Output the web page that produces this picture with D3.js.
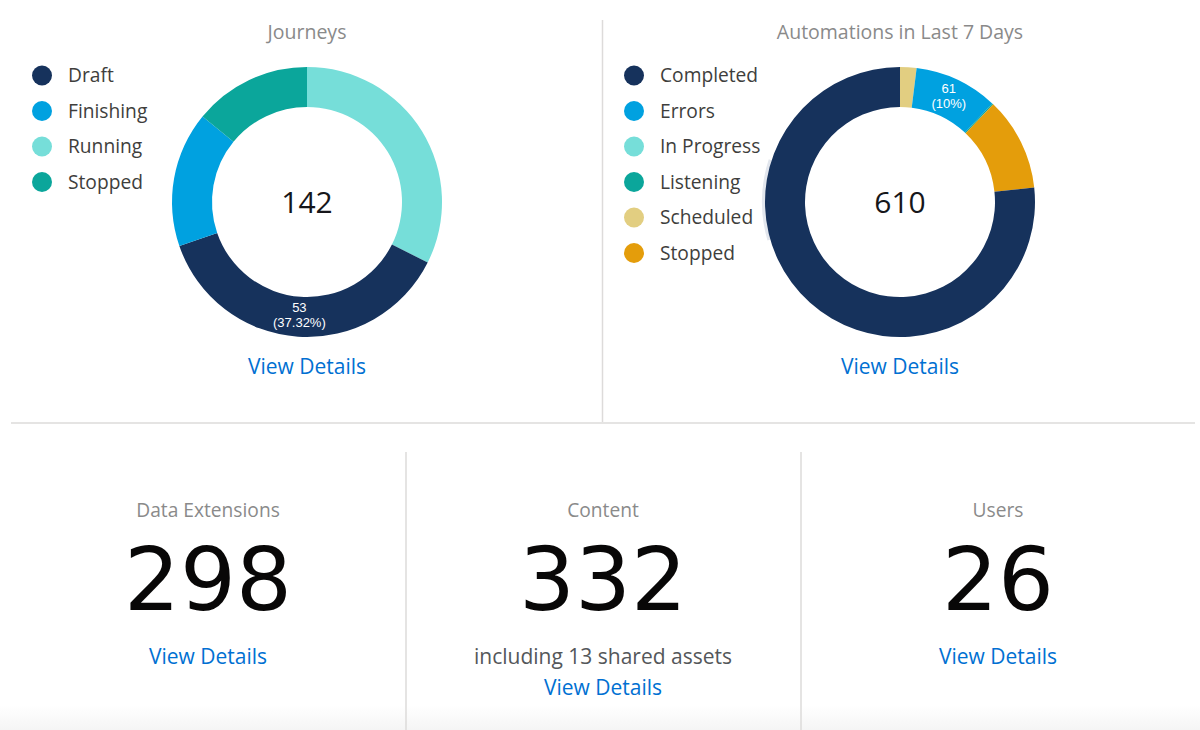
<!DOCTYPE html>
<html>
<head>
<meta charset="utf-8">
<script src="https://cdn.jsdelivr.net/npm/d3@7"></script>
<style>
    html, body { margin: 0; padding: 0; background: #fff; }
    svg { display: block; font-family: 'Open Sans', 'Noto Sans', sans-serif; }
</style>
</head>
<body>
<svg id="chart" width="1200" height="730"></svg>
<script>
'use strict';

// Journeys donut (legend order)
var journeyCategories = ['Draft', 'Finishing', 'Running', 'Stopped'],
    journeyValues = [53, 23, 46, 20],
    journeyColors = ['#16325c', '#00a1e0', '#76ded9', '#0ba69b'],
    journeyArcOrder = ['Running', 'Draft', 'Finishing', 'Stopped'],
    journeyLabelled = ['Draft'];

// Automations donut (legend order)
var autoCategories = ['Completed', 'Errors', 'In Progress', 'Listening', 'Scheduled', 'Stopped'],
    autoValues = [468, 61, 0, 1, 12, 68],
    autoColors = ['#16325c', '#00a1e0', '#76ded9', '#0ba69b', '#e2ce81', '#e49d0b'],
    autoArcOrder = ['Scheduled', 'Errors', 'In Progress', 'Listening', 'Stopped', 'Completed'],
    autoLabelled = ['Errors'];

// Bottom tiles
var tileTitles = ['Data Extensions', 'Content', 'Users'],
    tileValues = [298, 332, 26],
    tileNotes = ['', 'including 13 shared assets', ''];

var svg = d3.select('#chart'),
    W = 1200, H = 730,
    rOuter = 135, rInner = 95,
    linkColor = '#0070d2';

// faint fade at the very bottom
var grad = svg.append('defs').append('linearGradient')
    .attr('id', 'fade').attr('x1', 0).attr('y1', 0).attr('x2', 0).attr('y2', 1);
grad.append('stop').attr('offset', '0%').attr('stop-color', '#ffffff');
grad.append('stop').attr('offset', '100%').attr('stop-color', '#f5f5f5');
svg.append('rect').attr('x', 0).attr('y', 705).attr('width', W).attr('height', 25)
    .attr('fill', 'url(#fade)');

// dividers
svg.append('line').attr('x1', 602.5).attr('x2', 602.5).attr('y1', 20).attr('y2', 422)
    .attr('stroke', '#dddbda').attr('stroke-width', 1.5);
svg.append('line').attr('x1', 11).attr('x2', 1195).attr('y1', 423).attr('y2', 423)
    .attr('stroke', '#dddbda').attr('stroke-width', 1.5);
[406, 801].forEach(function(x) {
    svg.append('line').attr('x1', x).attr('x2', x).attr('y1', 452).attr('y2', H)
        .attr('stroke', '#dddbda').attr('stroke-width', 1.5);
});

function drawDonut(opts) {
    var g = svg.append('g'),
        color = d3.scaleOrdinal().domain(opts.categories).range(opts.colors),
        total = d3.sum(opts.values);

    var rows = opts.categories.map(function(c, i) {
        return {name: c, value: opts.values[i]};
    });
    var ordered = opts.arcOrder.map(function(name) {
        return rows.find(function(r) { return r.name === name; });
    });

    g.append('text')
        .attr('x', opts.cx).attr('y', 39)
        .attr('text-anchor', 'middle')
        .attr('font-size', 19.5).attr('fill', '#8a8a8a')
        .text(opts.title);

    var legend = g.append('g').selectAll('g')
        .data(rows)
        .enter().append('g')
            .attr('transform', function(d, i) {
                return 'translate(' + opts.legendX + ',' + (75.5 + i * 35.5) + ')';
            });
    legend.append('circle')
        .attr('r', 10)
        .attr('fill', function(d) { return color(d.name); });
    legend.append('text')
        .attr('x', 26).attr('dy', '0.35em')
        .attr('font-size', 19.2).attr('fill', '#3e3e3c')
        .text(function(d) { return d.name; });

    var pie = d3.pie().sort(null).value(function(d) { return d.value; }),
        arc = d3.arc().innerRadius(rInner).outerRadius(rOuter),
        arcs = pie(ordered.filter(function(d) { return d.value > 0; }));

    var donut = g.append('g')
        .attr('transform', 'translate(' + opts.cx + ',' + opts.cy + ')');

    if(opts.halo) {
        donut.append('path')
            .attr('d', d3.arc().innerRadius(rOuter - 2).outerRadius(rOuter + 3)
                .startAngle(opts.halo[0]).endAngle(opts.halo[1])())
            .attr('fill', '#e2e6ed');
    }

    donut.selectAll('path.slice')
        .data(arcs)
        .enter().append('path')
            .attr('class', 'slice')
            .attr('d', arc)
            .attr('fill', function(d) { return color(d.data.name); });

    // value + share label on the highlighted slice
    var labels = donut.selectAll('g.lbl')
        .data(arcs.filter(function(d) { return opts.labelled.indexOf(d.data.name) !== -1; }))
        .enter().append('g')
            .attr('class', 'lbl')
            .attr('font-family', "'Liberation Sans', sans-serif")
            .attr('transform', function(d) {
                var c = arc.centroid(d);
                return 'translate(' + c[0] + ',' + (c[1] - 5) + ')';
            });
    labels.append('text')
        .attr('text-anchor', 'middle').attr('y', 0)
        .attr('font-size', 13).attr('fill', '#ffffff')
        .text(function(d) { return d.data.value; });
    labels.append('text')
        .attr('text-anchor', 'middle').attr('y', 15)
        .attr('font-size', 13).attr('fill', '#ffffff')
        .text(function(d) {
            var pct = d.data.value / total * 100;
            return '(' + (Math.round(pct) === pct ? pct : d3.format('.2f')(pct)) + '%)';
        });

    donut.append('text')
        .attr('text-anchor', 'middle').attr('dy', '0.35em')
        .attr('font-size', 30).attr('fill', '#16161a')
        .text(total);

    g.append('text')
        .attr('x', opts.cx).attr('y', 374)
        .attr('text-anchor', 'middle')
        .attr('font-size', 21).attr('fill', linkColor)
        .text('View Details');
}

drawDonut({
    title: 'Journeys', cx: 307, cy: 202, legendX: 42,
    categories: journeyCategories, values: journeyValues, colors: journeyColors,
    arcOrder: journeyArcOrder, labelled: journeyLabelled
});

drawDonut({
    title: 'Automations in Last 7 Days', cx: 900, cy: 202, legendX: 634,
    categories: autoCategories, values: autoValues, colors: autoColors,
    arcOrder: autoArcOrder, labelled: autoLabelled,
    halo: [Math.PI * 1.41, Math.PI * 1.6]
});

// bottom tiles
var colX = d3.scalePoint().domain(tileTitles).range([208, 998]);

var tiles = svg.append('g').selectAll('g')
    .data(tileTitles)
    .enter().append('g')
        .attr('transform', function(d) { return 'translate(' + colX(d) + ',0)'; });

tiles.append('text')
    .attr('y', 517).attr('text-anchor', 'middle')
    .attr('font-size', 19.2).attr('fill', '#8a8a8a')
    .text(function(d) { return d; });

tiles.append('text')
    .attr('y', 610).attr('text-anchor', 'middle')
    .attr('font-family', "'DejaVu Sans', sans-serif")
    .attr('font-size', 88).attr('fill', '#080707')
    .text(function(d, i) { return tileValues[i]; });

tiles.append('text')
    .attr('y', 664).attr('text-anchor', 'middle')
    .attr('font-size', 21).attr('fill', '#54575a')
    .text(function(d, i) { return tileNotes[i]; });

tiles.append('text')
    .attr('y', function(d, i) { return tileNotes[i] ? 695 : 664; })
    .attr('text-anchor', 'middle')
    .attr('font-size', 21).attr('fill', linkColor)
    .text('View Details');
</script>
</body>
</html>
